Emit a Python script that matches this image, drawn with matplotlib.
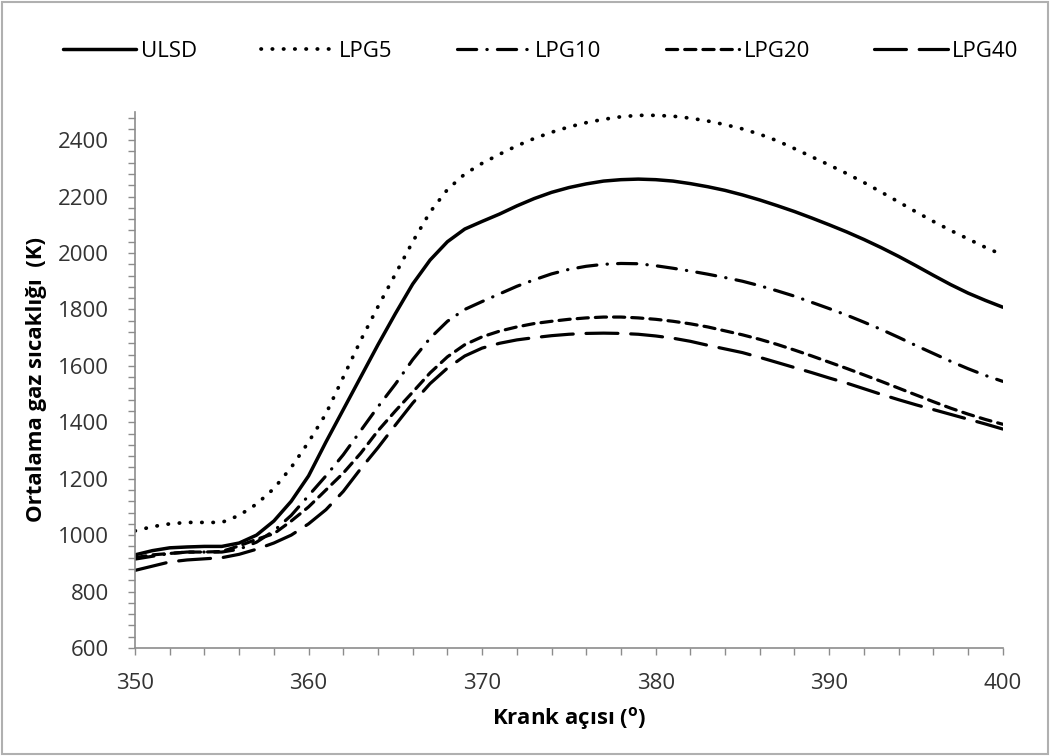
import numpy as np
import matplotlib.pyplot as plt
from matplotlib.patches import Rectangle

plt.rcParams['font.family'] = ['Open Sans', 'DejaVu Sans']

crank = np.arange(350, 401)

ulsd = [930, 945, 955, 958, 960, 960, 972, 1000, 1050, 1120,
        1210, 1330, 1445, 1560, 1675, 1785, 1890, 1975, 2040, 2085,
        2112, 2138, 2167, 2193, 2215, 2232, 2245, 2255, 2260, 2262,
        2260, 2255, 2246, 2235, 2222, 2206, 2188, 2168, 2147, 2124,
        2100, 2075, 2048, 2019, 1988, 1955, 1921, 1888, 1858, 1832,
        1808]

lpg5 = [1015, 1030, 1040, 1045, 1045, 1045, 1070, 1110, 1165, 1240,
        1330, 1430, 1560, 1690, 1810, 1925, 2040, 2145, 2225, 2280,
        2318, 2350, 2380, 2406, 2428, 2447, 2462, 2474, 2483, 2488,
        2488, 2485, 2478, 2468, 2455, 2440, 2421, 2398, 2370, 2341,
        2312, 2282, 2250, 2216, 2181, 2146, 2112, 2080, 2050, 2020,
        1993]

lpg10 = [915, 925, 935, 940, 940, 940, 950, 975, 1015, 1070,
         1140, 1210, 1285, 1370, 1455, 1535, 1622, 1698, 1758, 1800,
         1828, 1855, 1882, 1905, 1926, 1942, 1953, 1960, 1963, 1962,
         1955, 1946, 1936, 1925, 1913, 1900, 1884, 1866, 1847, 1825,
         1803, 1780, 1755, 1729, 1701, 1672, 1644, 1616, 1590, 1566,
         1545]

lpg20 = [920, 930, 935, 940, 940, 942, 962, 985, 1005, 1050,
         1100, 1160, 1220, 1290, 1370, 1440, 1507, 1575, 1632, 1675,
         1703, 1723, 1738, 1750, 1758, 1765, 1770, 1773, 1773, 1770,
         1765, 1758, 1749, 1738, 1724, 1710, 1694, 1676, 1656, 1635,
         1613, 1591, 1568, 1545, 1521, 1497, 1473, 1450, 1429, 1410,
         1393]

lpg40 = [875, 890, 905, 912, 916, 920, 932, 950, 972, 1000,
         1040, 1090, 1155, 1235, 1310, 1390, 1468, 1537, 1592, 1635,
         1663, 1680, 1692, 1700, 1707, 1712, 1715, 1716, 1715, 1712,
         1706, 1698, 1687, 1673, 1660, 1647, 1630, 1612, 1594, 1576,
         1557, 1539, 1519, 1499, 1480, 1462, 1445, 1428, 1411, 1394,
         1376]

fig = plt.figure(figsize=(10.5, 7.56), dpi=100)
ax = fig.add_axes([0.1286, 0.1429, 0.8264, 0.709])

lw = 2.3
ax.plot(crank, ulsd, color='black', lw=lw + 0.2, label='ULSD', solid_capstyle='round')
ax.plot(crank, lpg5, color='black', lw=2.7, linestyle=(0, (0.1, 2.9)),
        dash_capstyle='round', label='LPG5')
ax.plot(crank, lpg10, color='black', lw=lw, linestyle=(0, (6.0, 3.2, 0.1, 3.2)),
        dash_capstyle='round', label='LPG10')
ax.plot(crank, lpg20, color='black', lw=lw, linestyle=(0, (3.5, 2.2)),
        dash_capstyle='round', label='LPG20')
ax.plot(crank, lpg40, color='black', lw=lw, linestyle=(0, (10.0, 4.0)),
        dash_capstyle='round', label='LPG40')

ax.set_xlim(350, 400)
ax.set_ylim(600, 2500)
ax.set_xticks(np.arange(350, 401, 10))
ax.set_xticks(np.arange(350, 401, 2), minor=True)
ax.set_yticks(np.arange(600, 2401, 200))
ax.set_yticks(np.arange(600, 2501, 40), minor=True)

for s in ['top', 'right']:
    ax.spines[s].set_visible(False)
for s in ['left', 'bottom']:
    ax.spines[s].set_color('#8c8c8c')
    ax.spines[s].set_linewidth(1.2)

ax.tick_params(which='both', direction='out', color='#8c8c8c', width=1.0, length=5)
ax.tick_params(axis='y', which='major', labelsize=16, labelcolor='#333333', pad=14)
ax.tick_params(axis='x', which='major', labelsize=16, labelcolor='#333333', pad=13)

ax.set_xlabel('Krank açısı ($^\\mathregular{o}$)', fontsize=16, fontweight='bold', labelpad=8)
ax.set_ylabel('Ortalama gaz sıcaklığı  (K)', fontsize=16, fontweight='bold', labelpad=8)

fig.legend(loc='upper center', bbox_to_anchor=(0.515, 0.972), ncol=5, frameon=False,
           fontsize=16, handlelength=3.3, handletextpad=0.2, columnspacing=2.9)

fig.patches.append(Rectangle((0.002, 0.002), 0.996, 0.996, transform=fig.transFigure,
                             fill=False, edgecolor='#b0b0b0', lw=1.5))

fig.savefig('out.png', dpi=100)
